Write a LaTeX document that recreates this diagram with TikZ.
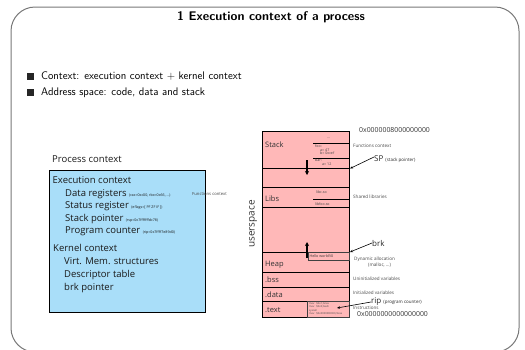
\documentclass[tikz,border=0pt]{standalone}
\usepackage{fontspec}
\newfontfamily\diag{Open Sans}
\usetikzlibrary{arrows.meta}
\definecolor{boxblue}{RGB}{169,222,249}
\definecolor{segpink}{RGB}{255,184,184}
\definecolor{framegray}{RGB}{120,120,120}
\definecolor{notegray}{RGB}{70,70,70}
\tikzset{
  titletext/.style={font=\sffamily\bfseries\fontsize{12.5}{14}\selectfont, inner sep=0},
  bullettext/.style={font=\sffamily\fontsize{11}{13}\selectfont, anchor=west, inner sep=0},
  bulletsq/.style={fill=black!85, minimum size=7.5pt, inner sep=0},
  ctxtext/.style={font=\diag\fontsize{9.5}{11}\selectfont, anchor=west, inner sep=0, text=black!90},
  tinytext/.style={font=\diag\fontsize{3.6}{4.2}\selectfont, anchor=west, inner sep=0, text=notegray},
  segtext/.style={font=\diag\fontsize{7.5}{9}\selectfont, anchor=west, inner sep=0, text=black!80},
  note/.style={font=\diag\fontsize{4.6}{5.2}\selectfont, anchor=west, inner sep=0, text=notegray},
  addr/.style={font=\diag\fontsize{6.9}{8}\selectfont, anchor=west, inner sep=0, text=black!80},
  ptrlabel/.style={font=\diag\fontsize{8}{9}\selectfont, anchor=west, inner sep=0, text=black!85},
  seg/.style={draw=black, line width=1pt, fill=segpink, minimum width=87pt, inner sep=0, anchor=north west},
  ptr/.style={line width=0.6pt, -{Stealth[length=3pt,width=2.5pt]}},
  growarrow/.style={line width=1.4pt, -{Stealth[length=4pt,width=4pt]}},
}
\begin{document}
\begin{tikzpicture}[x=1pt,y=-1pt]
\useasboundingbox (0,0) rectangle (525,349);
\clip (0,0) rectangle (525,349);
% frame
\draw[framegray, line width=1pt, rounded corners=24pt] (11,7) rectangle (519,352);
% title and bullets
\node[titletext] (title) at (271,17) {1 Execution context of a process};
\node[bulletsq] (b1) at (30.5,76.5) {};
\node[bullettext] (t1) at (41,76.5) {Context: execution context + kernel context};
\node[bulletsq] (b2) at (30.5,92.5) {};
\node[bullettext] (t2) at (41,92.5) {Address space: code, data and stack};
% process context box
\node[ctxtext] (pctitle) at (52,159) {Process context};
\node[draw=black, line width=0.9pt, fill=boxblue, minimum width=156pt, minimum height=142pt, inner sep=0] (pcbox) at (127,241) {};
\node[ctxtext] (exec) at (52.5,180) {Execution context};
\node[ctxtext] (dreg) at (65,194) {Data registers {\fontsize{3.6}{4}\selectfont (rax=0xc00, rbx=0x66, ...)}};
\node[ctxtext] (sreg) at (65,206.5) {Status register {\fontsize{3.6}{4}\selectfont (eflags=[ PF ZF IF ])}};
\node[ctxtext] (spt) at (65,219) {Stack pointer {\fontsize{3.6}{4}\selectfont (rsp=0x7fffffffdc78)}};
\node[ctxtext] (pcnt) at (65,231.5) {Program counter {\fontsize{3.6}{4}\selectfont (rip=0x7ffff7e89d0)}};
\node[ctxtext] (kern) at (53,248) {Kernel context};
\node[ctxtext] (vmem) at (64,261.5) {Virt. Mem. structures};
\node[ctxtext] (desc) at (64,275) {Descriptor table};
\node[ctxtext] (brkp) at (64,288.5) {brk pointer};
\node[note, font=\diag\fontsize{4.2}{5}\selectfont] (fctx) at (192,194) {Functions context};
% memory column
\node[seg, minimum height=37pt] (stack) at (262,131) {};
\node[seg, minimum height=19pt] (gap1) at (262,168) {};
\node[seg, minimum height=20pt] (libs) at (262,187) {};
\node[seg, minimum height=45pt] (gap2) at (262,207) {};
\node[seg, minimum height=20pt] (heap) at (262,252) {};
\node[seg, minimum height=15pt] (bss) at (262,272) {};
\node[seg, minimum height=14pt] (data) at (262,287) {};
\node[seg, minimum height=16pt] (text) at (262,301) {};
\node[segtext] (lstack) at (265,145) {Stack};
\node[segtext] (llibs) at (265,199) {Libs};
\node[segtext] (lheap) at (265,265) {Heap};
\node[segtext] (lbss) at (265,280) {.bss};
\node[segtext] (ldata) at (265,295) {.data};
\node[segtext] (ltext) at (265,310) {.text};
\node[font=\diag\fontsize{10}{11}\selectfont, rotate=90, text=black!80, inner sep=0] (user) at (253,224) {userspace};
% stack frames
\coordinate (f1l) at (313,143); \coordinate (f1r) at (349,143);
\coordinate (f2l) at (313,158); \coordinate (f2r) at (349,158);
\draw[line width=0.8pt] (f1l) -- (f1r);
\draw[line width=0.8pt] (f2l) -- (f2r);
\node[tinytext] (dots) at (327,138.5) {...};
\node[tinytext] (foo) at (315,146) {foo:};
\node[tinytext] (fooa) at (320,150) {a= 47};
\node[tinytext] (foob) at (320,153.5) {b= 0xcef};
\node[tinytext] (bar) at (315,160.5) {bar:};
\node[tinytext] (bara) at (322,164.5) {a= 12};
\coordinate (sdn1) at (307,160); \coordinate (sdn2) at (307,175);
\draw[growarrow] (sdn1) -- (sdn2);
% libs
\coordinate (l1l) at (313,199); \coordinate (l1r) at (349,199);
\draw[line width=0.8pt] (l1l) -- (l1r);
\node[tinytext] (libc) at (316,192.5) {libc.so};
\node[tinytext] (libfoo) at (315,204) {libfoo.so};
% heap
\node[draw=black!75, line width=1pt, minimum width=41pt, minimum height=8pt, inner sep=0, anchor=north west] (hello) at (308,252) {};
\node[tinytext, text=black!80] (hellot) at (309.5,256.3) {Hello world!\textbackslash 0};
\coordinate (hup1) at (307,258); \coordinate (hup2) at (307,242);
\draw[growarrow] (hup1) -- (hup2);
% text section code
\node[draw=black!75, line width=1pt, minimum width=42pt, minimum height=16pt, inner sep=0, anchor=north west] (code) at (307,301) {};
\node[font=\diag\fontsize{2.6}{3.3}\selectfont, text=notegray, anchor=north west, inner sep=0, align=left] (codet) at (309,302.5) {mov\ \ \ \$0x1,\%rax\\mov\ \ \ \$0x0,\%edi\\syscall\\mov\ \ \ \$0x0000000000,\%rax};
% pointer labels
\node[ptrlabel] (sp) at (374,159) {SP {\fontsize{4.5}{5}\selectfont (stack pointer)}};
\coordinate (spend) at (350,168.5);
\draw[ptr] (sp.west) ++(0,-2) -- (spend);
\node[ptrlabel] (brk) at (372,243) {brk};
\coordinate (brkend) at (350,252);
\draw[ptr] (brk.west) -- (brkend);
\node[ptrlabel] (rip) at (371,302) {rip {\fontsize{4.5}{5}\selectfont (program counter)}};
\coordinate (ripend) at (337,308);
\draw[ptr] (rip.west) -- (ripend);
% notes
\node[note] (n1) at (353,146) {Functions context};
\node[note] (n2) at (353,197) {Shared libraries};
\node[note] (n3) at (354,259) {Dynamic allocation};
\node[note] (n3b) at (368,265) {(malloc, ...)};
\node[note] (n4) at (353,279) {Uninitialized variables};
\node[note] (n5) at (353,293) {Initialized variables};
\node[note] (n6) at (353,308) {Instructions};
\node[addr] (atop) at (359,130) {0x0000008000000000};
\node[addr] (abot) at (357,314) {0x0000000000000000};
\end{tikzpicture}
\end{document}
